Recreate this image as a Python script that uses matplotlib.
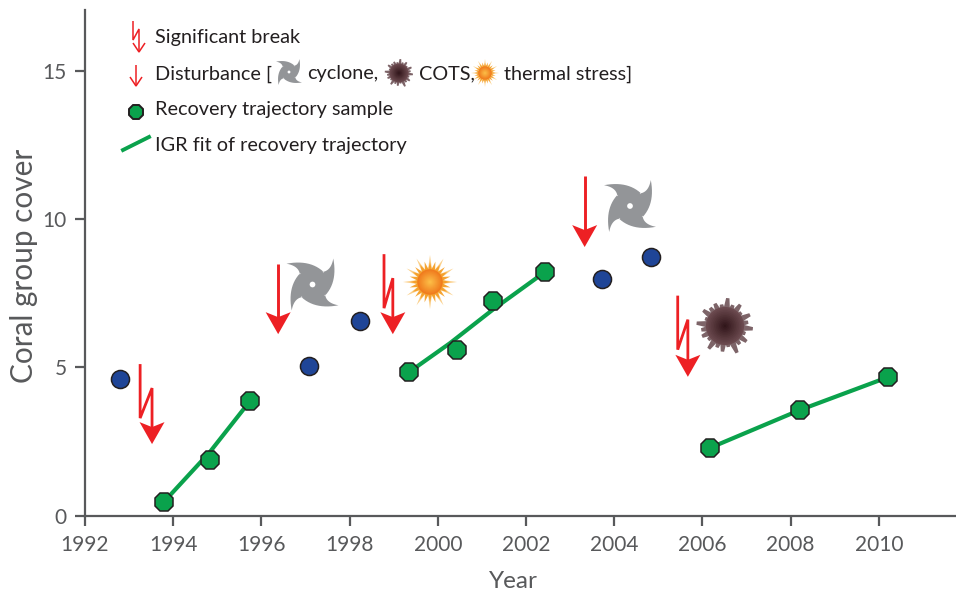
import numpy as np
import matplotlib
matplotlib.use("Agg")
import matplotlib.pyplot as plt
from matplotlib.patches import Polygon, Circle
from matplotlib.transforms import IdentityTransform
from matplotlib.colors import to_rgb

# ---- data ----
other_years = [1992.79, 1997.08, 1998.24, 2003.72, 2004.83]
other_cover = [4.61, 5.05, 6.56, 7.98, 8.72]
rec1_years = [1993.79, 1994.83, 1995.74]
rec1_cover = [0.46, 1.87, 3.86]
fit1_cover = [0.46, 2.14, 3.86]
rec2_years = [1999.35, 2000.44, 2001.25, 2002.43]
rec2_cover = [4.84, 5.59, 7.24, 8.22]
fit2_years = [1999.35, 2000.28, 2001.25, 2002.43]
fit2_cover = [4.84, 5.82, 6.95, 8.22]
rec3_years = [2006.17, 2008.21, 2010.21]
rec3_cover = [2.28, 3.56, 4.67]
dist_years = [1996.38, 2003.33]
dist_top = [8.50, 11.45]
dist_tip = [6.12, 9.06]
break_years = [1993.25, 1998.78, 2005.44]
break_step = [0.27, 0.20, 0.23]
break_top = [5.11, 8.82, 7.42]
break_tip = [2.41, 6.12, 4.68]
x_ticks = list(range(1992, 2011, 2))
y_ticks = [0, 5, 10, 15]

GREY = "#58595b"; GREEN = "#0aa24c"; BLUE = "#1f4597"; RED = "#ed2024"; INK = "#231f20"
W, H = 956, 592
plt.rcParams["font.family"] = ["Lato", "DejaVu Sans"]
fig = plt.figure(figsize=(W/100, H/100), dpi=100)
ax = fig.add_axes([85/W, 1-515.5/H, (W-85)/W, (515.5-10)/H])
ax.set_xlim(1992, 2011.75); ax.set_ylim(0, 17.06)
for s in ("top", "right"):
    ax.spines[s].set_visible(False)
for s in ("left", "bottom"):
    ax.spines[s].set_color(GREY); ax.spines[s].set_linewidth(1.6)
ax.set_xticks(x_ticks); ax.set_yticks(y_ticks)
ax.tick_params(length=7, width=1.6, color=GREY, labelcolor=GREY, labelsize=15)
ax.tick_params(axis="x", pad=7)
ax.tick_params(axis="y", pad=6)
fig.text(24/W, 1-266/H, "Coral group cover", rotation=90, ha="center", va="center", fontsize=21.4, color=GREY)
fig.text(513/W, 1-581/H, "Year", ha="center", va="center", fontsize=17.5, color=GREY)

ax.plot(rec1_years, fit1_cover, color=GREEN, lw=3, zorder=3, solid_capstyle="round")
ax.plot(fit2_years, fit2_cover, color=GREEN, lw=3, zorder=3, solid_capstyle="round")
ax.plot(rec3_years, rec3_cover, color=GREEN, lw=3, zorder=3, solid_capstyle="round")
mk = dict(ls="none", markeredgecolor=INK, markeredgewidth=1.1, zorder=4, clip_on=False)
ax.plot(other_years, other_cover, "o", color=BLUE, ms=13, **mk)
for xs, ys in ((rec1_years, rec1_cover), (rec2_years, rec2_cover), (rec3_years, rec3_cover)):
    ax.plot(xs, ys, "8", color=GREEN, ms=14.5, **mk)

ID = IdentityTransform()
def P(x, y):
    return (x, H - y)
def poly(pts, **kw):
    kw.setdefault("lw", 0)
    p = Polygon([P(*q) for q in pts], closed=True, transform=ID, **kw)
    p.set_clip_on(False)
    fig.add_artist(p)
def line(pts, color=RED, lw=1.5, z=5):
    a = np.array([P(*q) for q in pts])
    l = plt.Line2D(a[:, 0], a[:, 1], color=color, lw=lw, transform=ID, zorder=z, solid_joinstyle="miter", solid_capstyle="butt")
    fig.add_artist(l)
def to_px(x, y):
    d = ax.transData.transform((x, y))
    return d[0], H - d[1]
def big_head(x, ytip):
    poly([(x-12.5, ytip-22), (x, ytip-17), (x+12.5, ytip-22), (x, ytip)], fc=RED, zorder=5)
def thin_head(x, ytip, hw=6, hh=9):
    line([(x-hw, ytip-hh), (x, ytip), (x+hw, ytip-hh)], lw=1.1)

for x, t, b in zip(dist_years, dist_top, dist_tip):
    px, top = to_px(x, t); _, tip = to_px(x, b)
    line([(px, top), (px, tip-14)], lw=2.1)
    big_head(px, tip)
for x, st, t, b in zip(break_years, break_step, break_top, break_tip):
    px, top = to_px(x, t); px2, tip = to_px(x + st, b)
    line([(px, top), (px, top+54), (px2, top+24), (px2, tip-14)], lw=2.0)
    big_head(px2, tip)

def bez(a, c, b, n=14):
    t = np.linspace(0, 1, n)[:, None]
    a, c, b = map(np.array, (a, c, b))
    return (1-t)**2*a + 2*(1-t)*t*c + t**2*b

def cyclone(cx, cy, r):
    col = "#939598"
    fig.add_artist(Circle(P(cx, cy), 0.62*r, fc=col, lw=0, transform=ID, zorder=3))
    for k in range(4):
        th = k*np.pi/2
        R = np.array([[np.cos(th), -np.sin(th)], [np.sin(th), np.cos(th)]])
        tip = (0.80, -1.0)
        inner = bez((0.42, -0.49), (0.72, -0.55), tip)
        outer = bez(tip, (0.97, -0.10), (0.49, 0.42))
        pts = np.vstack([inner, outer]) @ R.T
        poly([(cx+r*a, cy+r*b) for a, b in pts], fc=col, zorder=3)
    fig.add_artist(Circle(P(cx, cy), 0.11*r, fc="white", lw=0, transform=ID, zorder=4))

def sun(cx, cy, r):
    c0 = np.array(to_rgb("#fdc24a")); c1 = np.array(to_rgb("#f07a1d"))
    for k in range(24):
        a = k*2*np.pi/24
        L = r*(1.0 if k % 2 == 0 else 0.78)
        w = 0.08*r
        d = np.array((np.cos(a), np.sin(a))); n = np.array((-d[1], d[0]))
        base = np.array((cx, cy)) + d*r*0.42
        col = "#fbd08a" if k % 2 == 0 else "#f6a83a"
        poly([tuple(base+n*w), tuple(np.array((cx, cy))+d*L), tuple(base-n*w)], fc=col, zorder=3)
        poly([tuple(base+n*w), tuple(np.array((cx, cy))+d*(0.42*r+0.55*(L-0.42*r))), tuple(base-n*w)], fc="#f5a02c", zorder=3)
    for f in np.linspace(1, 0.05, 16):
        col = c0 + (c1-c0)*f
        fig.add_artist(Circle(P(cx, cy), 0.47*r*f, fc=col, lw=0, transform=ID, zorder=4))

def cots(cx, cy, r):
    spikes = [1.0, .78, .95, .84, 1.05, .76, .92, .82, 1.0, .78, .9, .86, 1.02, .76, .96, .84, .88, .78, 1.0, .8, .94, .76, .98, .84]
    c = np.array((cx, cy))
    for k, s in enumerate(spikes):
        a = k*2*np.pi/len(spikes) + 0.1
        d = np.array((np.cos(a), np.sin(a))); n = np.array((-d[1], d[0]))
        poly([tuple(c+n*r*.2), tuple(c+d*r*s+n*r*.06), tuple(c+d*r*s-n*r*.06), tuple(c-n*r*.2)],
             fc="#6f5358", zorder=3, alpha=0.9)
    c1 = np.array(to_rgb("#6b4a4f")); c0 = np.array(to_rgb("#2d1216"))
    for f in np.linspace(1, 0.05, 12):
        fig.add_artist(Circle(P(cx, cy), 0.68*r*f, fc=c0+(c1-c0)*f, lw=0, transform=ID, zorder=4))

# icons beside the disturbances
cyclone(312.5, 284.5, 26); sun(430, 282, 27)
cyclone(630, 206, 26); cots(725, 326, 28)
cyclone(289, 72, 13); cots(399, 73, 14); sun(485, 73, 14)

# legend
line([(133, 21), (133, 40), (139, 29), (139, 51)], lw=1.1)
thin_head(139, 52)
line([(136, 65), (136, 85)], lw=1.1)
thin_head(136, 86)
fig.add_artist(plt.Line2D([136], [H-112], marker="8", ms=10.5, mfc=GREEN, mec=INK, mew=1.4, ls="none", transform=ID))
fig.add_artist(plt.Line2D([123, 149], [H-150, H-137], color=GREEN, lw=2.8, transform=ID))
ltext = dict(ha="left", va="center", fontsize=14.3, color=INK)
fig.text(155/W, 1-37/H, "Significant break", **ltext)
fig.text(155/W, 1-74/H, "Disturbance [", **ltext)
fig.text(307/W, 1-74/H, "cyclone,", **ltext)
fig.text(419/W, 1-74/H, "COTS,", **ltext)
fig.text(504/W, 1-74/H, "thermal stress]", **ltext)
fig.text(155/W, 1-110/H, "Recovery trajectory sample", **ltext)
fig.text(155/W, 1-146/H, "IGR fit of recovery trajectory", **ltext)

fig.savefig("out.png", dpi=100)
